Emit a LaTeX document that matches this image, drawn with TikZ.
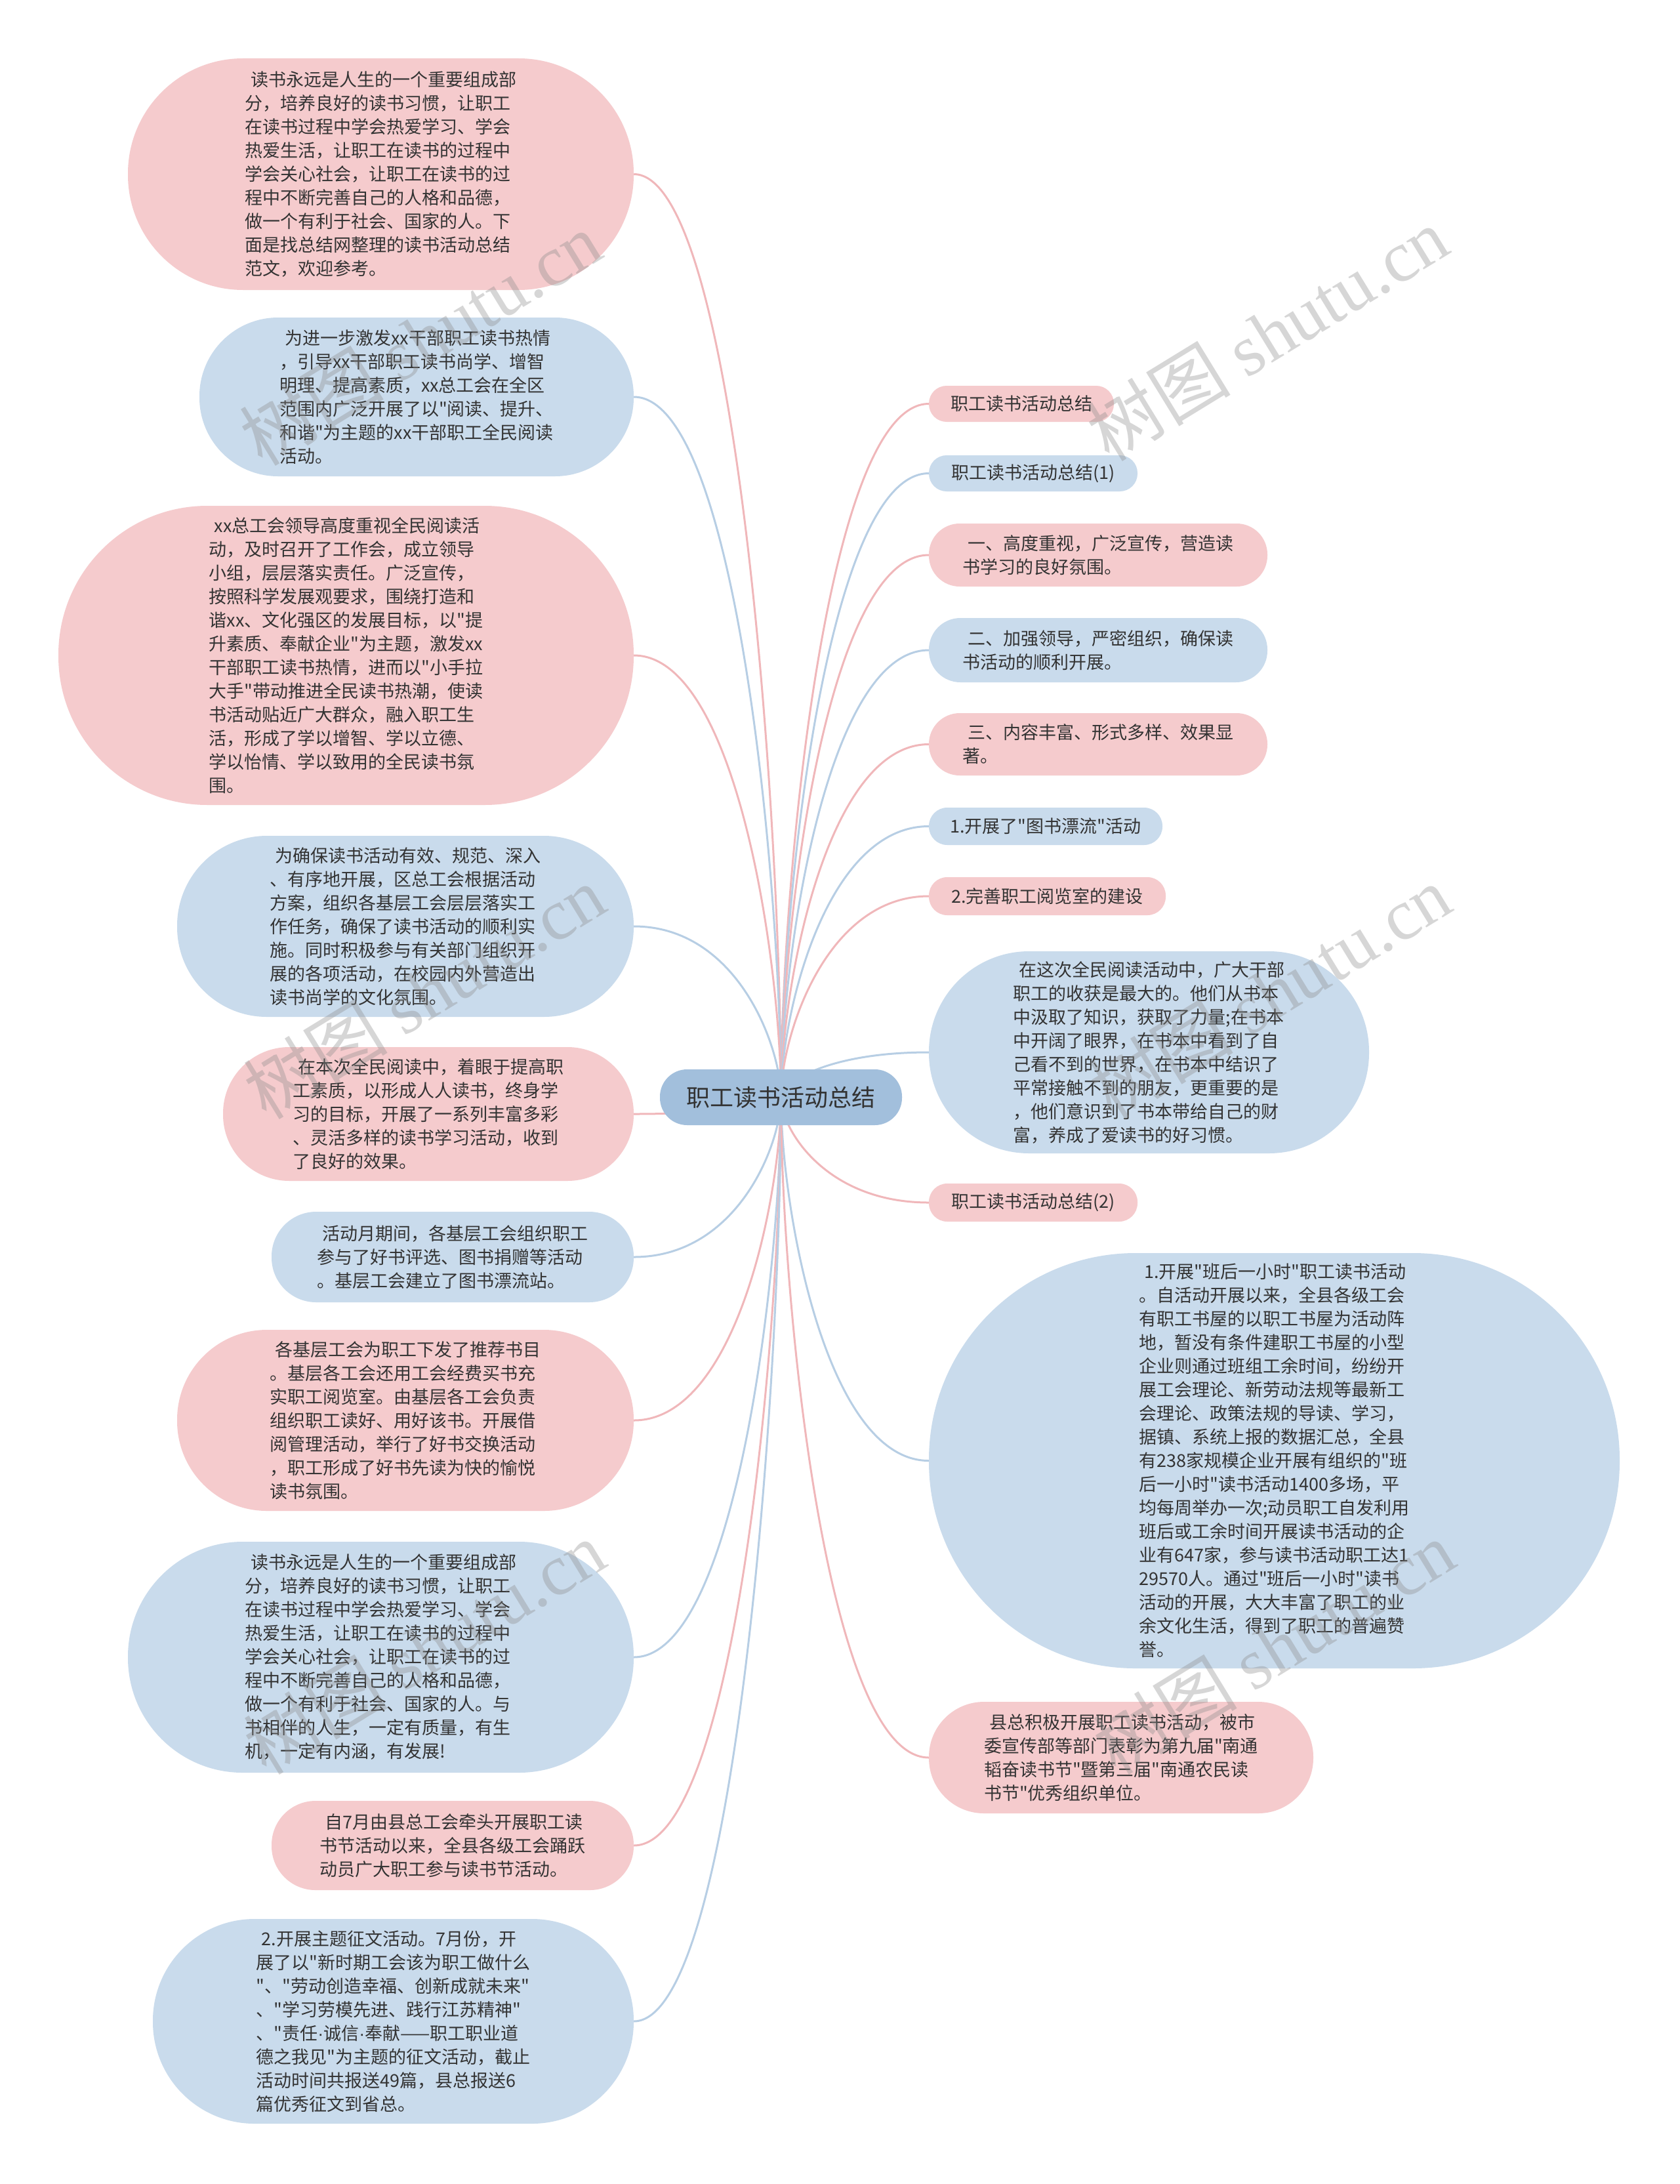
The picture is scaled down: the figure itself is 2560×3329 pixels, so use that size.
\documentclass[tikz,border=0pt]{standalone}
\usepackage{fontspec}
\setmainfont{Noto Sans CJK SC}[Ligatures=TeXOff]
\newfontfamily\wmserif{Liberation Serif}
\newfontfamily\latinf{Liberation Sans}[Ligatures=TeXOff]
\usetikzlibrary{calc,backgrounds}
\definecolor{pinkfill}{HTML}{F5CBCD}
\definecolor{bluefill}{HTML}{C9DBEC}
\definecolor{rootfill}{HTML}{A2BFDC}
\definecolor{pinkline}{HTML}{F0B7BA}
\definecolor{blueline}{HTML}{B7CEE4}
\definecolor{txt}{HTML}{333333}
\definecolor{wmgray}{HTML}{8A8A8A}
\newcommand\bx[8]{\node[#1, minimum width=#5pt, minimum height=#6pt, rounded corners=#7pt] (#2) at (#3,#4) {#8};}
\newcommand\lnk[3]{\draw[#1] (root.center) .. controls ($(root.center)!0.3!(root.center |- #2.#3)$) and ($(root.center |- #2.#3)!0.3!(#2.#3)$) .. (#2.#3);}
\newcommand\leadsp{\hspace*{0.3em}}
\newcommand\mdot{{\latinf ·}}
\begin{document}
\begin{tikzpicture}[x=1pt,y=-1pt,
  box/.style={rectangle, draw=none, inner sep=0pt, align=left, text=txt, font=\fontsize{27}{36}\selectfont},
  pinkbox/.style={box, fill=pinkfill},
  bluebox/.style={box, fill=bluefill},
  rootbox/.style={box, fill=rootfill, font=\fontsize{36}{42}\selectfont},
  pedge/.style={draw=pinkline, line width=3pt},
  bedge/.style={draw=blueline, line width=3pt},
  wm/.style={text=wmgray, opacity=0.35, font=\fontsize{110}{120}\selectfont, inner sep=0pt}]
\useasboundingbox (0,0) rectangle (2560,3329);
\begin{scope}[on background layer]
\fill[white] (0,0) rectangle (2560,3329);
\end{scope}

\bx{rootbox}{root}{1190.5}{1672.5}{369}{85}{41.5}{职工读书活动总结}

% left side
\bx{pinkbox}{L1}{580.5}{265.5}{771}{353}{175.5}{\leadsp 读书永远是人生的一个重要组成部\\分，培养良好的读书习惯，让职工\\在读书过程中学会热爱学习、学会\\热爱生活，让职工在读书的过程中\\学会关心社会，让职工在读书的过\\程中不断完善自己的人格和品德，\\做一个有利于社会、国家的人。下\\面是找总结网整理的读书活动总结\\范文，欢迎参考。}
\bx{bluebox}{L2}{635}{605}{662}{242}{120}{\leadsp 为进一步激发xx干部职工读书热情\\，引导xx干部职工读书尚学、增智\\明理、提高素质，xx总工会在全区\\范围内广泛开展了以"阅读、提升、\\和谐"为主题的xx干部职工全民阅读\\活动。}
\bx{pinkbox}{L3}{527.5}{999}{877}{456}{227}{\leadsp xx总工会领导高度重视全民阅读活\\动，及时召开了工作会，成立领导\\小组，层层落实责任。广泛宣传，\\按照科学发展观要求，围绕打造和\\谐xx、文化强区的发展目标，以"提\\升素质、奉献企业"为主题，激发xx\\干部职工读书热情，进而以"小手拉\\大手"带动推进全民读书热潮，使读\\书活动贴近广大群众，融入职工生\\活，形成了学以增智、学以立德、\\学以怡情、学以致用的全民读书氛\\围。}
\bx{bluebox}{L4}{618}{1412}{696}{276}{137}{\leadsp 为确保读书活动有效、规范、深入\\、有序地开展，区总工会根据活动\\方案，组织各基层工会层层落实工\\作任务，确保了读书活动的顺利实\\施。同时积极参与有关部门组织开\\展的各项活动，在校园内外营造出\\读书尚学的文化氛围。}
\bx{pinkbox}{L5}{653}{1698}{626}{204}{101}{\leadsp 在本次全民阅读中，着眼于提高职\\工素质，以形成人人读书，终身学\\习的目标，开展了一系列丰富多彩\\、灵活多样的读书学习活动，收到\\了良好的效果。}
\bx{bluebox}{L6}{690}{1916}{552}{138}{68}{\leadsp 活动月期间，各基层工会组织职工\\参与了好书评选、图书捐赠等活动\\。基层工会建立了图书漂流站。}
\bx{pinkbox}{L7}{618}{2165}{696}{276}{137}{\leadsp 各基层工会为职工下发了推荐书目\\。基层各工会还用工会经费买书充\\实职工阅览室。由基层各工会负责\\组织职工读好、用好该书。开展借\\阅管理活动，举行了好书交换活动\\，职工形成了好书先读为快的愉悦\\读书氛围。}
\bx{bluebox}{L8}{580.5}{2526}{771}{352}{175}{\leadsp 读书永远是人生的一个重要组成部\\分，培养良好的读书习惯，让职工\\在读书过程中学会热爱学习、学会\\热爱生活，让职工在读书的过程中\\学会关心社会，让职工在读书的过\\程中不断完善自己的人格和品德，\\做一个有利于社会、国家的人。与\\书相伴的人生，一定有质量，有生\\机，一定有内涵，有发展!}
\bx{pinkbox}{L9}{690}{2813}{552}{136}{67}{\leadsp 自7月由县总工会牵头开展职工读\\书节活动以来，全县各级工会踊跃\\动员广大职工参与读书节活动。}
\bx{bluebox}{L10}{599.5}{3081}{733}{312}{155}{\leadsp 2.开展主题征文活动。7月份，开\\展了以"新时期工会该为职工做什么\\"、"劳动创造幸福、创新成就未来"\\、"学习劳模先进、践行江苏精神"\\、"责任\mdot 诚信\mdot 奉献——职工职业道\\德之我见"为主题的征文活动，截止\\活动时间共报送49篇，县总报送6\\篇优秀征文到省总。}

% right side
\bx{pinkbox}{R1}{1557}{615.5}{282}{55}{27}{职工读书活动总结}
\bx{bluebox}{R2}{1575}{721.5}{318}{55}{27}{职工读书活动总结(1)}
\bx{pinkbox}{R3}{1674}{846}{516}{96}{47}{\leadsp 一、高度重视，广泛宣传，营造读\\书学习的良好氛围。}
\bx{bluebox}{R4}{1674}{991}{516}{98}{48}{\leadsp 二、加强领导，严密组织，确保读\\书活动的顺利开展。}
\bx{pinkbox}{R5}{1674}{1134.5}{516}{95}{47}{\leadsp 三、内容丰富、形式多样、效果显\\著。}
\bx{bluebox}{R6}{1594}{1259.5}{356}{57}{28}{1.开展了"图书漂流"活动}
\bx{pinkbox}{R7}{1596.5}{1366}{361}{58}{28}{2.完善职工阅览室的建设}
\bx{bluebox}{R8}{1751.5}{1604}{671}{308}{153}{\leadsp 在这次全民阅读活动中，广大干部\\职工的收获是最大的。他们从书本\\中汲取了知识，获取了力量;在书本\\中开阔了眼界，在书本中看到了自\\己看不到的世界，在书本中结识了\\平常接触不到的朋友，更重要的是\\，他们意识到了书本带给自己的财\\富，养成了爱读书的好习惯。}
\bx{pinkbox}{R9}{1575}{1833}{318}{58}{28}{职工读书活动总结(2)}
\bx{bluebox}{R10}{1942.5}{2226.5}{1053}{633}{315}{\leadsp 1.开展"班后一小时"职工读书活动\\。自活动开展以来，全县各级工会\\有职工书屋的以职工书屋为活动阵\\地，暂没有条件建职工书屋的小型\\企业则通过班组工余时间，纷纷开\\展工会理论、新劳动法规等最新工\\会理论、政策法规的导读、学习，\\据镇、系统上报的数据汇总，全县\\有238家规模企业开展有组织的"班\\后一小时"读书活动1400多场，平\\均每周举办一次;动员职工自发利用\\班后或工余时间开展读书活动的企\\业有647家，参与读书活动职工达1\\29570人。通过"班后一小时"读书\\活动的开展，大大丰富了职工的业\\余文化生活，得到了职工的普遍赞\\誉。}
\bx{pinkbox}{R11}{1709}{2679}{586}{170}{84}{\leadsp 县总积极开展职工读书活动，被市\\委宣传部等部门表彰为第九届"南通\\韬奋读书节"暨第三届"南通农民读\\书节"优秀组织单位。}

\begin{scope}[on background layer]
\lnk{pedge}{L1}{east}
\lnk{bedge}{L2}{east}
\lnk{pedge}{L3}{east}
\lnk{bedge}{L4}{east}
\lnk{pedge}{L5}{east}
\lnk{bedge}{L6}{east}
\lnk{pedge}{L7}{east}
\lnk{bedge}{L8}{east}
\lnk{pedge}{L9}{east}
\lnk{bedge}{L10}{east}
\lnk{pedge}{R1}{west}
\lnk{bedge}{R2}{west}
\lnk{pedge}{R3}{west}
\lnk{bedge}{R4}{west}
\lnk{pedge}{R5}{west}
\lnk{bedge}{R6}{west}
\lnk{pedge}{R7}{west}
\lnk{bedge}{R8}{west}
\lnk{pedge}{R9}{west}
\lnk{bedge}{R10}{west}
\lnk{pedge}{R11}{west}
\end{scope}

% watermarks
\node[wm, rotate=31.5] (wm1) at (641,516) {树图 {\wmserif shutu.cn}};
\node[wm, rotate=31.5] (wm2) at (1932,509) {树图 {\wmserif shutu.cn}};
\node[wm, rotate=31.5] (wm3) at (647,1512) {树图 {\wmserif shutu.cn}};
\node[wm, rotate=31.5] (wm4) at (1936,1512) {树图 {\wmserif shutu.cn}};
\node[wm, rotate=31.5] (wm5) at (647,2511) {树图 {\wmserif shutu.cn}};
\node[wm, rotate=31.5] (wm6) at (1942,2511) {树图 {\wmserif shutu.cn}};
\end{tikzpicture}
\end{document}
